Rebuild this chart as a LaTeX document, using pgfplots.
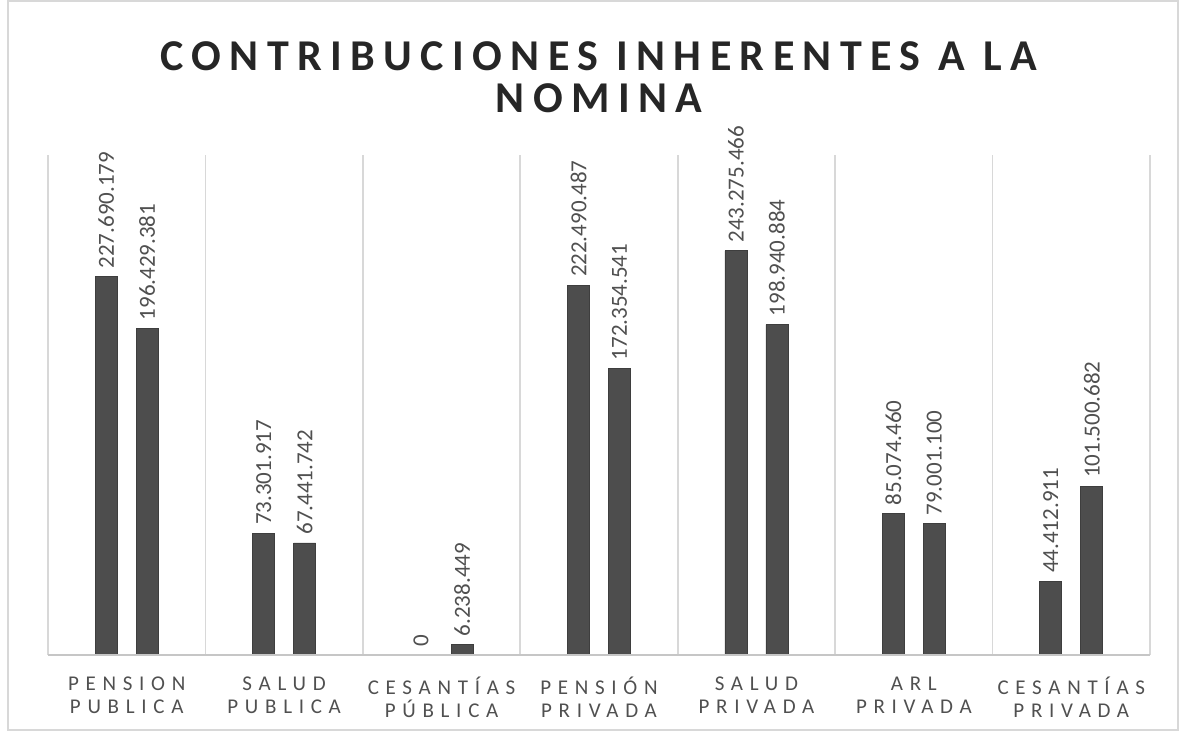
\documentclass[border=0pt]{standalone}
\usepackage{pgfplots}
\pgfplotsset{compat=1.18}
\usepackage{pgfplotstable}
\usepackage{fontspec}
\setmainfont{Carlito}
\newfontfamily\titlefont[LetterSpace=19]{Carlito}
\newfontfamily\tickfont[LetterSpace=32]{Carlito}
\definecolor{barc}{HTML}{4D4D4D}
\definecolor{txt}{HTML}{505050}
\definecolor{gridc}{HTML}{D8D8D8}
\pgfplotstableread{
x y lab
0 227690179 227.690.179
1 73301917 73.301.917
2 0 0
3 222490487 222.490.487
4 243275466 243.275.466
5 85074460 85.074.460
6 44412911 44.412.911
}\seriesA
\pgfplotstableread{
x y lab
0 196429381 196.429.381
1 67441742 67.441.742
2 6238449 6.238.449
3 172354541 172.354.541
4 198940884 198.940.884
5 79001100 79.001.100
6 101500682 101.500.682
}\seriesB
\begin{document}
\begin{tikzpicture}
\begin{axis}[
  scale only axis, width=551pt, height=250pt,
  anchor=south west, at={(0,0)},
  xmin=-0.5, xmax=6.5, ymin=0, ymax=301000000,
  ybar=9.5pt, bar width=11pt,
  axis line style={draw=none},
  ytick=\empty,
  xtick={0,...,6},
  xticklabels={{PENSION\\PUBLICA},{SALUD\\PUBLICA},{CESANTÍAS\\PÚBLICA},{PENSIÓN\\PRIVADA},{SALUD\\PRIVADA},{ARL\\PRIVADA},{CESANTÍAS\\PRIVADA}},
  x tick label style={align=center, font=\tickfont\fontsize{10.5}{11.5}\selectfont, text=txt, yshift=-3pt},
  major x tick style={draw=none},
  minor xtick={-0.5,0.5,...,6.5},
  minor x tick style={draw=none},
  minor x grid style={gridc, line width=0.8pt},
  xminorgrids,
  nodes near coords,
  point meta=explicit symbolic,
  every node near coord/.append style={rotate=90, anchor=west, font=\fontsize{11.5}{12}\selectfont, text=txt, inner sep=2pt, xshift=2pt},
  clip=false,
]
\addplot[fill=barc, draw=barc!80!black] table[x=x, y=y, meta=lab] {\seriesA};
\addplot[fill=barc, draw=barc!80!black] table[x=x, y=y, meta=lab] {\seriesB};
\draw[gridc!80!gray, line width=0.8pt] (rel axis cs:0,0) -- (rel axis cs:1,0);
\node[font=\titlefont\bfseries\fontsize{22}{21}\selectfont, text=black!85, align=center, anchor=center]
  at ([yshift=39pt]rel axis cs:0.5,1) {CONTRIBUCIONES INHERENTES A LA\\NOMINA};
\end{axis}
\path[draw=gridc, line width=0.6pt] (-20pt,-37.5pt) rectangle (565pt,327pt);
\useasboundingbox (-24pt,-38pt) rectangle (566pt,327.5pt);
\end{tikzpicture}
\end{document}
